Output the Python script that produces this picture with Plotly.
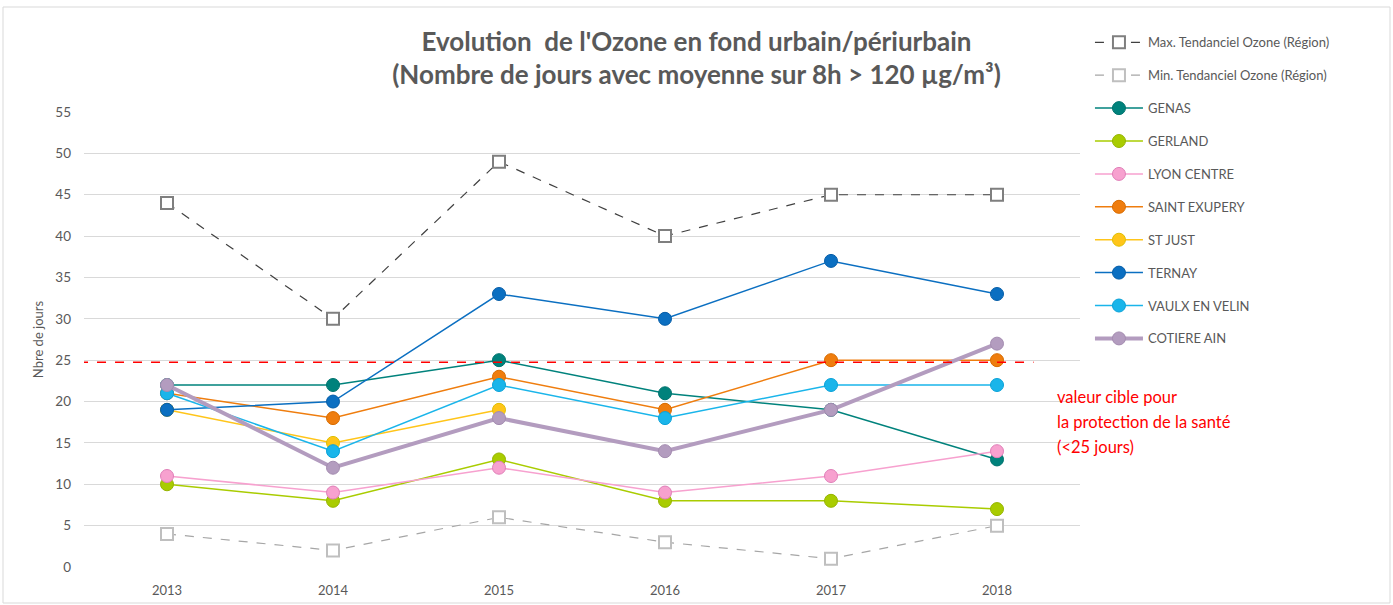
import plotly.graph_objects as go

# ---------------- data ----------------
years = [2013, 2014, 2015, 2016, 2017, 2018]
year_labels = ["2013", "2014", "2015", "2016", "2017", "2018"]

max_region = [44, 30, 49, 40, 45, 45]
min_region = [4, 2, 6, 3, 1, 5]
genas = [22, 22, 25, 21, 19, 13]
gerland = [10, 8, 13, 8, 8, 7]
lyon_centre = [11, 9, 12, 9, 11, 14]
saint_exupery = [21, 18, 23, 19, 25, 25]
st_just = [19, 15, 19, None, None, None]
ternay = [19, 20, 33, 30, 37, 33]
vaulx_en_velin = [21, 14, 22, 18, 22, 22]
cotiere_ain = [22, 12, 18, 14, 19, 27]

target_value = 25
y_ticks = [0, 5, 10, 15, 20, 25, 30, 35, 40, 45, 50, 55]
note_lines = ["valeur cible pour", "la protection de la santé", "(<25 jours)"]

FONT = "Lato"
TXT = "#595959"

fig = go.Figure()

# trend lines (Region)
fig.add_trace(go.Scatter(
    x=years, y=max_region, name="Max. Tendanciel Ozone (Région)",
    mode="lines+markers",
    line=dict(color="#404040", width=1.2, dash="dash"),
    marker=dict(symbol="square", size=12, color="white",
                line=dict(color="#7f7f7f", width=2)),
    legendgroup="g1",
))
fig.add_trace(go.Scatter(
    x=years, y=min_region, name="Min. Tendanciel Ozone (Région)",
    mode="lines+markers",
    line=dict(color="#a6a6a6", width=1.2, dash="dash"),
    marker=dict(symbol="square", size=12, color="white",
                line=dict(color="#bfbfbf", width=2)),
    legendgroup="g2",
))

stations = [
    ("GENAS", genas, "#00827c", "#00736e"),
    ("GERLAND", gerland, "#a9cc00", "#96b400"),
    ("LYON CENTRE", lyon_centre, "#f7a1cf", "#e07fb8"),
    ("SAINT EXUPERY", saint_exupery, "#ef7d0e", "#d86c00"),
    ("ST JUST", st_just, "#ffc51a", "#e0c000"),
    ("TERNAY", ternay, "#0b6fc1", "#075ea8"),
    ("VAULX EN VELIN", vaulx_en_velin, "#1ab5ea", "#0aa2d8"),
]
for i, (name, vals, lc, mc) in enumerate(stations):
    fig.add_trace(go.Scatter(
        x=years, y=vals, name=name, mode="lines+markers",
        line=dict(color=lc, width=1.5),
        marker=dict(symbol="circle", size=13, color=lc,
                    line=dict(color=mc, width=1)),
        legendgroup=f"s{i}",
    ))

fig.add_trace(go.Scatter(
    x=years, y=cotiere_ain, name="COTIERE AIN", mode="lines+markers",
    line=dict(color="#b39cbf", width=4),
    marker=dict(symbol="circle", size=13, color="#b39cbf",
                line=dict(color="#a48cb0", width=1)),
    legendgroup="cot",
))

# target line (drawn slightly below the 25 gridline, as in the original)
fig.add_shape(type="line", xref="x", yref="y",
              x0=2012.47, x1=2018.22, y0=target_value - 0.25, y1=target_value - 0.25,
              line=dict(color="#ff0000", width=1.5, dash="dash"))

for k, line_txt in enumerate(note_lines):
    fig.add_annotation(
        text=line_txt,
        xref="paper", yref="paper", x=(1055 - 84) / 996,
        y=(567 - (397 + 25 * k)) / 455,
        xanchor="left", yanchor="middle", align="left", showarrow=False,
        font=dict(family=FONT, size=16.5, color="#ff0000"),
    )

# outer chart frame
fig.add_shape(type="rect", xref="paper", yref="paper",
              x0=(3 - 84) / 996, x1=(1390 - 84) / 996,
              y0=(567 - 603) / 455, y1=(567 - 7) / 455,
              line=dict(color="#d9d9d9", width=1), fillcolor="rgba(0,0,0,0)",
              layer="below")

fig.update_layout(
    width=1393, height=605,
    margin=dict(l=84, r=313, t=112, b=38, autoexpand=False),
    paper_bgcolor="white", plot_bgcolor="white",
    font=dict(family=FONT, color=TXT, size=13),
    title=dict(
        text="<b>Evolution  de l'Ozone en fond urbain/périurbain<br>(Nombre de jours avec moyenne sur 8h > 120 µg/m³)</b>",
        x=0.5, xref="container", xanchor="center",
        y=1 - 50.5 / 605, yref="container", yanchor="middle",
        font=dict(family=FONT, size=26, color=TXT),
    ),
    xaxis=dict(
        range=[2012.5, 2018.5], tickvals=years, ticktext=year_labels,
        showgrid=False, zeroline=False, showline=False, ticks="",
        tickfont=dict(size=13, color=TXT), ticklabelstandoff=14,
        automargin=False,
    ),
    yaxis=dict(
        range=[0, 55], tickvals=y_ticks, showgrid=True, gridcolor="#d9d9d9",
        gridwidth=1, zeroline=False, showline=False, ticks="",
        tickfont=dict(size=13.5, color=TXT),
        title=dict(text="Nbre de jours", font=dict(size=13, color=TXT), standoff=8),
        ticklabelstandoff=12, automargin=False,
    ),
    legend=dict(
        x=1.010, y=1.186, xanchor="left", yanchor="top",
        font=dict(family=FONT, size=13, color=TXT),
        tracegroupgap=13, itemwidth=48, bgcolor="rgba(0,0,0,0)",
        maxheight=600,
    ),
    showlegend=True,
)

fig.write_html("out.html", config={"displayModeBar": False},
               post_script="document.body.style.margin='0px';")
